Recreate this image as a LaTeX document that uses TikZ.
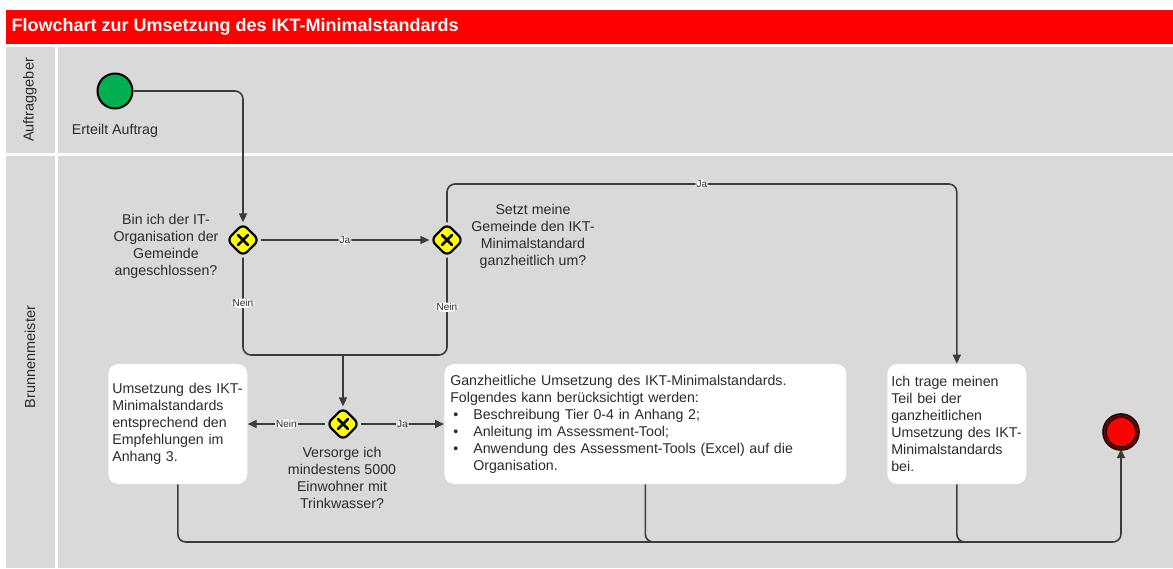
\documentclass[tikz,border=0pt]{standalone}
\usepackage{fontspec}
\setmainfont{Liberation Sans}
\usetikzlibrary{arrows.meta,shapes.geometric}

\definecolor{lanegray}{HTML}{D9D9D9}
\definecolor{flowred}{HTML}{FF0000}
\definecolor{startgreen}{HTML}{00B050}
\definecolor{gateyellow}{HTML}{FFFF00}
\definecolor{inkgray}{HTML}{2B2B2B}
\definecolor{linegray}{HTML}{3C3C3C}
\definecolor{endring}{HTML}{6E0000}

\newcommand{\bodyfont}{\fontsize{14.2}{17}\selectfont}
\newcommand{\lblfont}{\fontsize{10}{11}\selectfont}
\newcommand{\titlefont}{\fontsize{18}{20}\selectfont\bfseries}

\begin{document}
\begin{tikzpicture}[x=1pt,y=-1pt,>={Triangle[length=9pt,width=8pt]},semithick,
                    flow/.style={->,draw=linegray,line width=1.6pt,rounded corners=8pt},
                    line/.style={draw=linegray,line width=1.6pt,rounded corners=8pt}]
  \tikzstyle{gate}=[diamond,draw=black,fill=gateyellow,line width=2.2pt,minimum size=33pt,
                    inner sep=0pt,rounded corners=6pt,
                    path picture={\draw[line width=2.6pt,line cap=round]
                      ([shift={(-5pt,-5pt)}]path picture bounding box.center) -- ([shift={(5pt,5pt)}]path picture bounding box.center)
                      ([shift={(-5pt,5pt)}]path picture bounding box.center) -- ([shift={(5pt,-5pt)}]path picture bounding box.center);}]
  \tikzstyle{task}=[rectangle,fill=white,rounded corners=10pt,inner xsep=4pt,align=left,
                    minimum height=120pt,anchor=west,text=inkgray,font=\bodyfont]
  \tikzstyle{note}=[align=center,text=inkgray,font=\bodyfont,inner sep=0pt]
  \tikzstyle{lbl}=[fill=white,inner sep=1pt,text=inkgray,font=\lblfont]
  \tikzstyle{lane}=[rotate=90,text=inkgray,font=\fontsize{14.5}{16}\selectfont]

  \useasboundingbox (0,0) rectangle (1173,568);
  \fill[white] (0,0) rectangle (1173,568);
  \fill[flowred] (6,10) rectangle (1173,44);
  \fill[lanegray] (6,47) rectangle (55,153);
  \fill[lanegray] (58,47) rectangle (1173,153);
  \fill[lanegray] (6,156) rectangle (55,568);
  \fill[lanegray] (58,156) rectangle (1173,568);

  \node[anchor=west,text=white,font=\titlefont] (title) at (8,27) {Flowchart zur Umsetzung des IKT-Minimalstandards};
  \node[lane] (auftraggeber)   at (30,100) {Auftraggeber};
  \node[lane] (brunnenmeister) at (30,357) {Brunnenmeister};

  \node[circle,draw=black,line width=2pt,fill=startgreen,minimum size=35pt] (start) at (115,91) {};
  \node[note] (startlbl) at (115,131) {Erteilt Auftrag};

  \node[gate] (g1) at (243,240) {};
  \node[gate] (g2) [right of=g1,node distance=204pt] {};
  \node[gate] (g3) at (343,424) {};

  \node[note] (q1) at (166,246) {Bin ich der IT-\\Organisation der\\Gemeinde\\angeschlossen?};
  \node[note] (q2) at (533,236) {Setzt meine\\Gemeinde den IKT-\\Minimalstandard\\ganzheitlich um?};
  \node[note] (q3) at (342,478) {Versorge ich\\mindestens 5000\\Einwohner mit\\Trinkwasser?};

  \node[task,text width=131pt] (t1) at (108,424)
    {Umsetzung des IKT-\\Minimalstandards\\entsprechend den\\Empfehlungen im\\Anhang 3.};
  \node[task,text width=390pt,inner xsep=6pt] (t2) at (444,424)
    {Ganzheitliche Umsetzung des IKT-Minimalstandards.\\
     Folgendes kann berücksichtigt werden:\\
     \hspace*{3pt}\makebox[20pt][l]{\textbullet}Beschreibung Tier 0-4 in Anhang 2;\\
     \hspace*{3pt}\makebox[20pt][l]{\textbullet}Anleitung im Assessment-Tool;\\
     \hspace*{3pt}\makebox[20pt][l]{\textbullet}Anwendung des Assessment-Tools (Excel) auf die\\
     \hspace*{23pt}Organisation.};
  \node[task,text width=131pt] (t3) at (887,424)
    {Ich trage meinen\\Teil bei der\\ganzheitlichen\\Umsetzung des IKT-\\Minimalstandards\\bei.};

  \node[circle,draw=black,double=endring,double distance=2.2pt,line width=1.2pt,
        fill=flowred,minimum size=33pt] (end) at (1121,432) {};

  \coordinate (mrg) at (343,355);
  \coordinate (ja2) at (447,184);
  \coordinate (bot) at (1121,542);
  \coordinate (jn)  at (1040,542);

  \draw[flow] (start) -| (g1);
  \draw[flow] (g1) -- node[lbl] {Ja} (g2);
  \draw[flow] (g2) -- (ja2) -| node[lbl,pos=0.25] {Ja} (t3);
  \draw[line] (g1) |- node[lbl,pos=0.235] {Nein} (mrg);
  \draw[line] (g2) |- node[lbl,pos=0.255] {Nein} (mrg);
  \draw[flow] (mrg) -- (g3);
  \draw[flow] (g3) -- node[lbl] {Nein} (t1);
  \draw[flow] (g3) -- node[lbl] {Ja} (t2);
  \draw[line] (t1) |- (jn);
  \draw[line] (t2) |- (jn);
  \draw[flow] (t3) |- (bot) -- (end);
\end{tikzpicture}
\end{document}
